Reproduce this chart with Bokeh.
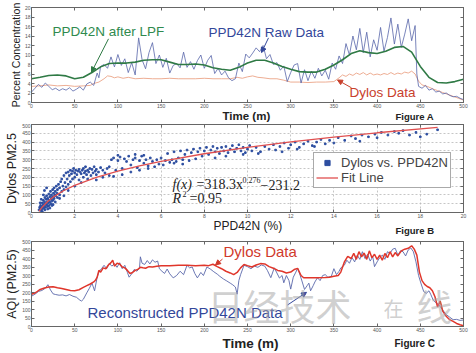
from bokeh.plotting import figure
from bokeh.models import (Range1d, FixedTicker, Label, Arrow, NormalHead, Legend,
                          LegendItem, LinearAxis)
from bokeh.layouts import column
from bokeh.embed import file_html
from bokeh.resources import INLINE

# ---------------- Figure A data ----------------
a_raw_t = [0, 4, 8, 12, 16, 20, 24, 28, 32, 36, 40, 44, 48, 52, 56, 60, 64, 68, 72, 76, 78, 80, 84, 88,
           92, 96, 100, 104, 108, 112, 116, 120, 124, 128, 132, 136, 140, 144, 148, 152, 156, 160, 164,
           168, 172, 176, 180, 184, 188, 192, 196, 200, 204, 208, 212, 216, 220, 224, 228, 232, 236, 240,
           244, 248, 252, 256, 260, 264, 268, 272, 276, 280, 284, 288, 292, 296, 300, 304, 308, 312, 316,
           320, 324, 328, 332, 336, 340, 344, 348, 352, 356, 360, 364, 368, 372, 376, 380, 384, 388, 392,
           396, 400, 404, 408, 412, 416, 420, 424, 428, 432, 436, 440, 444, 446, 448, 452, 456, 460, 464,
           468, 472, 476, 480, 484, 488, 492, 496, 500]
a_raw_v = [2.2, 3.0, 3.8, 3.2, 4.1, 3.4, 2.7, 3.0, 2.5, 2.9, 2.6, 3.1, 2.4, 2.8, 3.3, 2.6, 3.9, 4.3, 3.6,
           6.2, 5.2, 7.6, 8.0, 7.2, 9.6, 7.5, 10.1, 7.8, 9.2, 6.3, 8.4, 5.8, 13.6, 9.0, 7.1, 10.5, 12.6,
           8.2, 10.0, 7.4, 9.3, 6.2, 7.8, 8.2, 7.3, 10.6, 7.4, 8.6, 7.0, 8.8, 10.0, 7.2, 8.9, 9.9, 6.1,
           7.2, 5.8, 6.6, 5.2, 4.6, 5.0, 8.3, 6.5, 10.2, 9.4, 10.4, 11.5, 10.7, 12.0, 9.2, 10.1, 8.0, 8.4,
           6.8, 7.7, 4.4, 6.3, 7.9, 8.2, 4.1, 6.9, 4.6, 6.6, 5.1, 7.2, 5.6, 6.8, 4.9, 8.3, 7.0, 9.8, 8.2,
           12.4, 10.0, 14.0, 11.1, 15.6, 10.5, 14.8, 9.6, 13.2, 11.0, 15.8, 10.8, 13.7, 17.8, 12.3, 16.5,
           11.6, 14.4, 17.6, 13.0, 16.2, 6.0, 3.4, 3.0, 3.6, 2.6, 2.9, 2.2, 2.4, 1.8, 2.0, 1.5, 1.2, 1.3,
           0.9, 0.6]

a_lpf_t = [0, 10, 20, 30, 40, 50, 60, 70, 80, 90, 100, 110, 120, 130, 140, 150, 160, 170, 180, 190, 200,
           210, 220, 230, 240, 250, 260, 270, 280, 290, 300, 310, 320, 330, 340, 350, 360, 370, 380, 390,
           400, 410, 420, 430, 440, 450, 460, 470, 480, 490, 500]
a_lpf_v = [5.0, 5.3, 5.7, 5.8, 5.6, 5.0, 5.3, 6.3, 7.5, 8.2, 8.3, 8.3, 8.5, 8.9, 9.0, 9.0, 8.5, 8.0, 8.0,
           8.1, 7.9, 7.3, 7.0, 6.8, 7.4, 8.3, 8.9, 8.9, 8.3, 7.6, 7.0, 6.5, 6.4, 6.4, 7.0, 7.9, 9.0, 10.3,
           10.9, 10.5, 10.3, 10.8, 11.6, 11.8, 10.6, 7.6, 5.3, 4.2, 4.1, 4.4, 4.9]

a_dyl_t = [0, 10, 20, 30, 40, 50, 60, 68, 72, 78, 84, 88, 92, 96, 100, 106, 112, 120, 130, 140, 150, 160,
           170, 180, 190, 200, 210, 220, 230, 238, 244, 250, 256, 262, 268, 276, 284, 292, 300, 310, 320,
           330, 340, 350, 356, 360, 364, 368, 372, 376, 380, 384, 388, 392, 396, 400, 404, 408, 412, 416,
           420, 424, 428, 432, 436, 440, 444, 448, 452, 458, 464, 470, 476, 482, 488, 494, 500]
a_dyl_v = [3.4, 3.5, 3.7, 3.5, 3.6, 3.4, 3.5, 3.6, 4.0, 4.3, 5.0, 5.6, 5.5, 5.2, 5.4, 5.1, 5.3, 5.0, 5.1,
           5.0, 5.0, 5.1, 5.0, 5.0, 5.0, 5.1, 5.0, 5.0, 5.0, 5.3, 5.1, 5.4, 5.6, 5.3, 5.2, 5.0, 5.0, 4.7,
           4.3, 4.3, 4.2, 4.3, 4.3, 4.4, 5.2, 5.8, 5.5, 6.0, 5.7, 6.2, 5.9, 6.3, 5.8, 6.2, 5.8, 6.0, 5.8,
           6.1, 5.9, 6.3, 5.9, 6.2, 6.0, 6.4, 6.2, 6.6, 6.0, 4.5, 3.7, 3.4, 2.9, 2.5, 2.1, 1.7, 1.3, 0.9, 0.5]

# ---------------- Figure B data ----------------
b_x = [0.35, 0.4, 0.42, 0.45, 0.48, 0.5, 0.5, 0.52, 0.55, 0.55, 0.58, 0.6, 0.6, 0.62, 0.65, 0.65, 0.68,
       0.7, 0.7, 0.72, 0.75, 0.75, 0.78, 0.8, 0.8, 0.82, 0.85, 0.85, 0.88, 0.9, 0.9, 0.92, 0.95, 0.95,
       0.98, 1.0, 1.0, 1.02, 1.05, 1.05, 1.08, 1.1, 1.1, 1.12, 1.15, 1.18, 1.2, 1.2, 0.4, 0.45, 0.55,
       0.6, 0.7, 0.5, 0.38, 0.62, 0.75, 0.85, 0.95, 1.0,
       1.25, 1.3, 1.3, 1.35, 1.4, 1.4, 1.45, 1.5, 1.5, 1.55, 1.6, 1.6, 1.65, 1.7, 1.7, 1.75, 1.8, 1.8,
       1.85, 1.9, 1.9, 1.95, 2.0, 2.0, 2.05, 2.1, 2.15, 2.2, 2.2, 2.25, 2.3, 2.35, 2.4, 2.4, 2.45, 2.5,
       2.5, 2.55, 2.6, 2.65, 2.7, 2.75, 2.8, 2.85, 2.9, 2.95, 3.0, 3.0, 3.1, 3.2, 3.3, 3.4, 3.5, 1.3,
       1.5, 1.7, 2.0, 2.3, 2.6, 3.0, 3.3, 3.6,
       3.6, 3.7, 3.8, 3.9, 4.0, 4.1, 4.2, 4.3, 4.4, 4.5, 4.6, 4.7, 4.8, 4.9, 5.0, 5.1, 5.2, 5.3, 5.4,
       5.5, 3.8, 4.2, 4.6, 5.0, 5.4, 4.0, 4.8, 5.2,
       5.6, 5.8, 5.9, 6.0, 6.2, 6.3, 6.4, 6.5, 6.6, 6.7, 6.8, 6.9, 7.0, 7.1, 7.2, 7.3, 7.4, 7.5, 7.6,
       7.7, 7.8, 7.9, 8.0, 5.7, 6.1, 6.6, 7.0,
       8.1, 8.2, 8.3, 8.4, 8.5, 8.6, 8.7, 8.8, 8.9, 9.0, 9.1, 9.2, 9.3, 9.4, 9.5, 9.6, 9.7, 9.8, 9.9,
       10.0, 10.1, 10.2, 10.4, 10.6, 10.8, 11.0, 8.5, 9.0, 9.8, 10.5,
       11.2, 11.3, 11.5, 11.7, 11.9, 12.0, 12.2, 12.4, 12.6, 12.8, 13.0, 13.2, 13.4, 13.6, 13.8, 14.0,
       11.6, 12.3, 13.1,
       14.2, 14.5, 14.8, 15.0, 15.3, 15.6, 15.9, 16.2, 16.5, 16.8, 17.0, 17.2, 17.5, 17.8, 18.0, 18.3,
       18.8, 15.2, 16.0]
b_y = [15, 25, 40, 10, 30, 55, 20, 35, 45, 70, 25, 60, 40, 85, 30, 50, 75, 45, 95, 60, 35, 80, 55, 105,
       70, 40, 90, 60, 120, 75, 50, 100, 85, 65, 130, 90, 70, 110, 80, 140, 100, 60, 120, 95, 150, 110,
       85, 130, 55, 75, 100, 125, 140, 5, 30, 15, 20, 25, 40, 45,
       160, 100, 140, 175, 120, 190, 150, 210, 130, 170, 225, 145, 190, 230, 160, 210, 240, 175, 220,
       235, 190, 250, 225, 200, 240, 215, 235, 245, 185, 230, 220, 240, 250, 200, 225, 235, 260, 215,
       240, 230, 250, 210, 245, 225, 260, 235, 245, 215, 230, 255, 240, 225, 250, 80, 95, 125, 150, 170,
       190, 185, 200, 210,
       260, 300, 310, 240, 295, 315, 250, 305, 290, 320, 270, 300, 310, 255, 295, 320, 280, 300, 265,
       310, 205, 215, 230, 240, 250, 325, 330, 325,
       290, 300, 275, 310, 295, 335, 285, 300, 345, 290, 310, 350, 300, 330, 355, 295, 340, 360, 305,
       345, 365, 320, 350, 260, 270, 280, 275,
       370, 330, 355, 375, 345, 365, 335, 370, 350, 375, 340, 360, 380, 345, 365, 385, 350, 370, 340,
       360, 380, 350, 370, 345, 375, 360, 310, 320, 330, 335,
       385, 355, 375, 395, 365, 385, 400, 370, 390, 405, 380, 400, 415, 390, 410, 395, 345, 360, 375,
       425, 410, 435, 420, 440, 430, 445, 455, 440, 460, 450, 465, 440, 455, 430, 445, 470, 405, 425]

fit_x = [0.35, 0.5, 0.75, 1, 1.5, 2, 3, 4, 5, 6, 8, 10, 12, 14, 16, 18.8]
fit_y = [7.0, 31.7, 62.8, 87.1, 124.8, 154.2, 199.8, 235.5, 265.1, 290.7, 333.8, 369.7, 400.7, 428.3,
         453.0, 484.1]

# ---------------- Figure C data ----------------
c_dyl_t = [0, 5, 10, 15, 20, 25, 30, 35, 40, 45, 50, 55, 60, 64, 68, 72, 74, 76, 78, 80, 83, 86, 89, 92,
           94, 96, 99, 102, 105, 108, 111, 114, 117, 120, 123, 126, 129, 132, 136, 140, 145, 150, 160, 170,
           180, 190, 200, 205, 210, 215, 220, 225, 230, 234, 238, 242, 246, 250, 255, 260, 265, 270, 275,
           280, 285, 290, 295, 300, 304, 308, 312, 315, 320, 330, 340, 345, 350, 355, 358, 362, 366, 370,
           373, 376, 379, 382, 385, 388, 391, 394, 397, 400, 403, 406, 409, 412, 415, 418, 421, 424, 428,
           432, 436, 440, 443, 446, 449, 452, 455, 458, 461, 464, 467, 470, 473, 476, 480, 484, 488, 492,
           496, 500]
c_dyl_v = [190, 200, 218, 226, 232, 234, 228, 224, 218, 212, 210, 216, 230, 240, 250, 262, 272, 290, 330,
           320, 345, 340, 362, 376, 390, 355, 372, 368, 350, 345, 330, 312, 318, 330, 336, 348, 345, 343,
           352, 350, 355, 358, 358, 360, 360, 358, 360, 358, 366, 352, 340, 325, 315, 305, 318, 345, 365,
           358, 350, 362, 370, 368, 352, 343, 330, 325, 315, 320, 335, 342, 300, 287, 287, 287, 288, 290,
           295, 300, 320, 378, 412, 400, 430, 395, 440, 410, 432, 395, 445, 405, 425, 395, 420, 390, 430,
           405, 440, 410, 435, 415, 445, 455, 460, 475, 455, 420, 320, 270, 248, 235, 228, 210, 175, 115,
           150, 90, 60, 40, 30, 18, 10, 5]

c_rec_t = [0, 4, 8, 12, 16, 19, 22, 25, 28, 32, 36, 40, 44, 48, 52, 56, 58, 60, 64, 67, 70, 73, 76, 78,
           81, 84, 87, 90, 93, 96, 99, 102, 105, 108, 111, 113, 116, 119, 122, 125, 126, 128, 131, 134,
           137, 140, 143, 146, 148, 151, 154, 157, 160, 164, 168, 172, 176, 180, 183, 186, 189, 192, 196,
           199, 203, 207, 211, 215, 218, 222, 226, 230, 233, 236, 238, 240, 242, 246, 250, 254, 258, 262,
           266, 270, 273, 277, 281, 284, 287, 290, 292, 295, 298, 300, 303, 306, 308, 311, 313, 316, 319,
           321, 323, 326, 328, 331, 334, 337, 340, 343, 347, 350, 353, 356, 358, 362, 365, 368, 371, 374,
           377, 380, 383, 386, 389, 392, 395, 397, 400, 403, 406, 409, 412, 415, 418, 421, 424, 427, 430,
           433, 436, 439, 442, 445, 448, 451, 454, 457, 460, 462, 465, 468, 471, 474, 477, 480, 484, 488,
           492, 496, 500]
c_rec_v = [178, 190, 206, 212, 225, 246, 215, 192, 188, 184, 186, 180, 188, 178, 172, 155, 150, 160, 198,
           225, 255, 210, 290, 322, 340, 360, 340, 372, 355, 370, 348, 375, 340, 360, 318, 290, 310, 336,
           325, 345, 410, 372, 365, 388, 368, 392, 378, 385, 340, 325, 312, 338, 310, 286, 300, 325, 305,
           360, 345, 350, 312, 286, 318, 300, 350, 338, 322, 308, 295, 280, 268, 255, 245, 232, 190, 270,
           305, 360, 352, 340, 355, 348, 362, 355, 330, 287, 345, 315, 285, 300, 257, 300, 270, 220, 290,
           320, 343, 300, 268, 218, 240, 255, 210, 240, 262, 287, 270, 300, 305, 290, 295, 340, 305, 325,
           345, 360, 390, 372, 405, 380, 420, 395, 440, 400, 425, 385, 410, 352, 380, 405, 420, 395, 440,
           430, 455, 460, 420, 445, 440, 415, 450, 462, 440, 380, 300, 250, 205, 195, 210, 190, 155, 140,
           130, 110, 90, 70, 55, 40, 42, 36, 38]

x_ticks_time = [0, 50, 100, 150, 200, 250, 300, 350, 400, 450, 500]
a_y_ticks = [0, 2, 4, 6, 8, 10, 12, 14, 16, 18, 20]
b_x_ticks = [0, 2, 4, 6, 8, 10, 12, 14, 16, 18, 20]
pm_y_ticks = [0, 50, 100, 150, 200, 250, 300, 350, 400, 450, 500]

W = 476
FL, FR = 31, 463          # common frame left / right (px)
SANS = "Liberation Sans"
SERIF = "Liberation Serif"
BASE_SHIFT = 0.32         # em offset: Label anchors lower than the alphabetic baseline


def make_fig(h, ft, fb, xr, yr, xt, yt, ylabel, ysize, grid=False):
    p = figure(width=W, height=h, output_backend="svg", toolbar_location=None, title=None,
               x_range=Range1d(*xr), y_range=Range1d(*yr),
               min_border_left=FL, min_border_right=W - FR,
               min_border_top=ft, min_border_bottom=h - fb)
    p.outline_line_color = "#666666"
    p.background_fill_color = "white"
    p.border_fill_color = "white"
    top = LinearAxis()
    right = LinearAxis()
    p.add_layout(top, "above")
    p.add_layout(right, "right")
    for ax, ticks in ((p.xaxis, xt), (p.yaxis, yt)):
        for a in ax:
            a.ticker = FixedTicker(ticks=ticks)
            a.major_tick_in = 3
            a.major_tick_out = 0
            a.minor_tick_in = 0
            a.minor_tick_out = 0
            a.axis_line_color = "#666666"
            a.major_tick_line_color = "#666666"
            a.major_label_text_font_size = "5px"
            a.major_label_text_color = "#555555"
            a.major_label_text_font = SANS
            a.major_label_standoff = 1
    for a in (top, right):
        a.major_label_text_color = None
        a.major_label_text_font_size = "1px"
        a.major_label_standoff = 0
    ax = p.yaxis[0]
    ax.axis_label = ylabel
    ax.axis_label_text_font = SANS
    ax.axis_label_text_font_style = "normal"
    ax.axis_label_text_font_size = f"{ysize}px"
    ax.axis_label_text_color = "#222222"
    ax.axis_label_standoff = 0
    if grid:
        for g, ticks in ((p.xgrid, xt), (p.ygrid, yt)):
            g.ticker = FixedTicker(ticks=ticks)
            g.grid_line_color = "#b8b8b8"
            g.grid_line_dash = "2 2"
            g.grid_line_width = 0.8
    else:
        p.xgrid.grid_line_color = None
        p.ygrid.grid_line_color = None
    return p


def make_strip(h):
    s = figure(width=W, height=h, output_backend="svg", toolbar_location=None, title=None,
               x_range=Range1d(FL, FR), y_range=Range1d(h, 0),
               x_axis_location=None, y_axis_location=None,
               min_border_left=FL, min_border_right=W - FR,
               min_border_top=0, min_border_bottom=0)
    s.outline_line_color = None
    s.xgrid.grid_line_color = None
    s.ygrid.grid_line_color = None
    s.background_fill_color = "white"
    s.border_fill_color = "white"
    return s


def conv_factory(x0, x1, y0, y1, ft, fb):
    def conv(cx, cy):
        x = x0 + (cx - FL) / (FR - FL) * (x1 - x0)
        y = y0 + (fb - cy) / (fb - ft) * (y1 - y0)
        return x, y
    return conv


def strip_conv(top):
    def conv(cx, cy):
        return cx, cy - top
    return conv


def lab(p, conv, cx, cy, text, size, color="#222222", style="normal", font=SANS,
        align="left", baseline="alphabetic", angle=0.0, alpha=1.0):
    if baseline == "alphabetic":
        cy = cy - BASE_SHIFT * size
    x, y = conv(cx, cy)
    p.add_layout(Label(x=x, y=y, text=text, text_font_size=f"{size}px", text_color=color,
                       text_font_style=style, text_font=font, text_align=align,
                       text_baseline=baseline, angle=angle, text_alpha=alpha))


def arrow(p, conv, c0, c1, color):
    x0, y0 = conv(*c0)
    x1, y1 = conv(*c1)
    p.add_layout(Arrow(end=NormalHead(size=5, fill_color=color, line_color=color),
                       x_start=x0, y_start=y0, x_end=x1, y_end=y1,
                       line_color=color, line_width=1))


# ---------------- Panel A (global y 0..110) ----------------
pa = make_fig(110, 7, 104, (0, 500), (0, 20), x_ticks_time, a_y_ticks,
              "Percent Concentration", 10.5)
convA = conv_factory(0, 500, 0, 20, 7, 104)
pa.line(a_dyl_t, a_dyl_v, line_color="#eba487", line_width=0.9)
pa.line(a_raw_t, a_raw_v, line_color="#5866aa", line_width=0.8)
pa.line(a_lpf_t, a_lpf_v, line_color="#2f7a45", line_width=1.6)
lab(pa, convA, 52, 35.5, "PPD42N after LPF", 13.5, color="#2f8a4e")
lab(pa, convA, 208, 37, "PPD42N Raw Data", 13.5, color="#33479a")
lab(pa, convA, 349, 98.5, "Dylos Data", 13.5, color="#c8402c")
arrow(pa, convA, (108, 39), (91, 73), "#2f7a45")
arrow(pa, convA, (268, 38), (261, 53), "#33479a")
arrow(pa, convA, (351, 89), (337, 81), "#c8402c")

# caption strip A (global y 110..123)
sa = make_strip(13)
cA = strip_conv(110)
lab(sa, cA, 222, 119, "Time (m)", 11.5, style="bold")
lab(sa, cA, 395, 119.5, "Figure A", 9.5, style="bold")

# ---------------- Panel B (global y 123..220) ----------------
pb = make_fig(97, 1, 91, (0, 20), (0, 500), b_x_ticks, pm_y_ticks,
              "Dylos PM2.5", 12.5, grid=True)
convB = conv_factory(0, 20, 0, 500, 124, 214)
sc = pb.scatter(b_x, b_y, marker="square", size=1.6, fill_color="#2d4ea0", line_color="#2d4ea0")
fl_r = pb.line(fit_x, fit_y, line_color="#e05050", line_width=1.3)
leg = Legend(items=[LegendItem(label="Dylos vs. PPD42N", renderers=[sc]),
                    LegendItem(label="Fit Line", renderers=[fl_r])],
             location=(282, 24), label_text_font_size="13px", label_text_font=SANS,
             border_line_color="#555555", border_line_width=1, padding=2, spacing=0,
             glyph_width=22, glyph_height=13, label_height=13, margin=0, label_standoff=3,
             background_fill_alpha=1.0)
pb.add_layout(leg)
lab(pb, convB, 172, 190, "f(x)", 14, style="italic", font=SERIF)
lab(pb, convB, 196, 190, "=318.3x", 14, font=SERIF)
lab(pb, convB, 242, 183, "0.276", 8, font=SERIF)
lab(pb, convB, 260, 190, "\u2212231.2", 14, font=SERIF)
lab(pb, convB, 172, 204, "R", 14, style="italic", font=SERIF)
lab(pb, convB, 182, 198, "2", 8, font=SERIF)
lab(pb, convB, 189, 204, "=0.95", 14, font=SERIF)

# caption strip B (global y 220..236)
sb = make_strip(16)
cB = strip_conv(220)
lab(sb, cB, 213, 229, "PPD42N (%)", 12)
lab(sb, cB, 395, 233, "Figure B", 9.5, style="bold")

# ---------------- Panel C (global y 236..334) ----------------
pc = make_fig(98, 5, 92, (0, 500), (0, 500), x_ticks_time, pm_y_ticks,
              "AQI (PM2.5)", 12.5)
convC = conv_factory(0, 500, 0, 500, 241, 328)
pc.line(c_rec_t, c_rec_v, line_color="#5a68aa", line_width=0.9)
pc.line(c_dyl_t, c_dyl_v, line_color="#e0362b", line_width=1.5)
lab(pc, convC, 223, 256, "Dylos Data", 15, color="#d03a2c")
lab(pc, convC, 87, 318, "Reconstructed PPD42N Data", 15, color="#33479a")
arrow(pc, convC, (222, 259), (215, 265), "#d03a2c")
arrow(pc, convC, (287, 306), (306, 293), "#33479a")
WM = "Noto Sans CJK SC"
lab(pc, convC, 207, 306, "日经技术", 36, color="#a8a8a8", font=WM, baseline="middle", alpha=0.55)
lab(pc, convC, 383, 310, "在", 20, color="#a8a8a8", font=WM, baseline="middle", alpha=0.55)
lab(pc, convC, 416, 306, "线", 36, color="#a8a8a8", font=WM, baseline="middle", alpha=0.55)

# caption strip C (global y 334..353)
scs = make_strip(19)
cC = strip_conv(334)
lab(scs, cC, 222, 347, "Time (m)", 13.5, style="bold")
lab(scs, cC, 394, 346.5, "Figure C", 10, style="bold")

layout = column(pa, sa, pb, sb, pc, scs, spacing=0)
open("out.html", "w").write(file_html(layout, INLINE))
